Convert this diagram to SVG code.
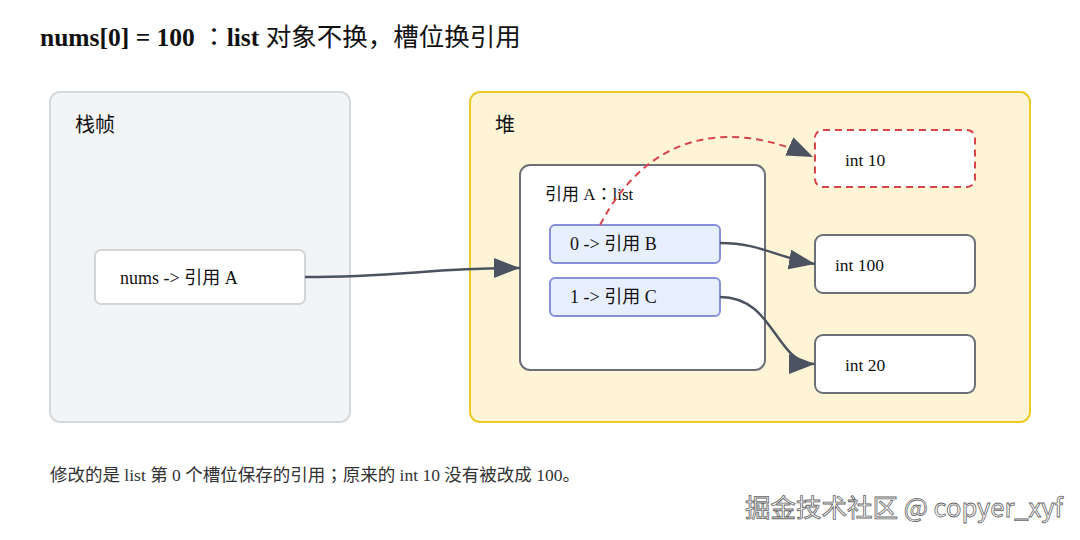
<svg xmlns="http://www.w3.org/2000/svg" width="1080" height="540" viewBox="0 0 1080 540">
<defs>
<style>
.t{font-family:"Liberation Serif","Noto Sans CJK SC",serif;fill:#111}
.jp{font-family:"Noto Sans CJK JP",sans-serif;font-weight:normal}
.lbl{font-family:"Noto Sans CJK SC","Liberation Sans",sans-serif;font-size:20px;fill:#111}
.node{fill:#fff;stroke:#6b7079;stroke-width:2}
.slot{fill:#e8effc;stroke:#8890dd;stroke-width:2}
.edge{fill:none;stroke:#4b5260;stroke-width:2.5}
</style>
<marker id="ah" markerUnits="userSpaceOnUse" markerWidth="28" markerHeight="20" refX="26" refY="10" orient="auto">
<path d="M0,0 L26,10 L0,20 z" fill="#4b5260"/>
</marker>
</defs>
<rect width="1080" height="540" fill="#fff"/>
<text x="40" y="46" class="t" font-size="25.5" font-weight="bold">nums[0] = 100 <tspan class="jp">：</tspan>list <tspan font-weight="normal">对象不换</tspan><tspan class="jp">，</tspan><tspan font-weight="normal">槽位换引用</tspan></text>

<g id="stack">
<rect x="50" y="92" width="300" height="330" rx="10" fill="#f2f4f5" stroke="#d5d9dc" stroke-width="2"/>
<text x="75" y="132" class="lbl">栈帧</text>
</g>
<g id="heap">
<rect x="470" y="92" width="560" height="330" rx="10" fill="#fff5d6" stroke="#ecca2a" stroke-width="2"/>
<text x="495" y="132" class="lbl">堆</text>
</g>
<g id="nums">
<rect x="95" y="250" width="210" height="54" rx="6" fill="#fff" stroke="#d2d5d8" stroke-width="2"/>
<text x="120" y="284" class="t" font-size="18">nums -&gt; 引用 A</text>
</g>
<g id="listA">
<rect x="520" y="165" width="245" height="205" rx="10" class="node"/>
<text x="545" y="200" class="t" font-size="17">引用 A<tspan class="jp">：</tspan>list</text>
</g>
<g id="slot0">
<rect x="550" y="225" width="170" height="38" rx="5" class="slot"/>
<text x="570" y="250" class="t" font-size="18">0 -&gt; 引用 B</text>
</g>
<g id="slot1">
<rect x="550" y="278" width="170" height="38" rx="5" class="slot"/>
<text x="570" y="303" class="t" font-size="18">1 -&gt; 引用 C</text>
</g>
<g id="int10">
<rect x="815" y="130" width="160" height="57" rx="8" fill="#fff" stroke="#d9434a" stroke-width="2" stroke-dasharray="7,5"/>
<text x="845" y="166" class="t" font-size="17.5">int 10</text>
</g>
<g id="int100">
<rect x="815" y="235" width="160" height="58" rx="8" class="node"/>
<text x="835" y="271" class="t" font-size="17.5">int 100</text>
</g>
<g id="int20">
<rect x="815" y="335" width="160" height="58" rx="8" class="node"/>
<text x="845" y="371" class="t" font-size="17.5">int 20</text>
</g>
<g id="connectors">
<path class="edge" d="M305,277 C400,277 430,268 520,268" marker-end="url(#ah)"/>
<path class="edge" d="M720,243 C760,243 775,257 815,264" marker-end="url(#ah)"/>
<path class="edge" d="M720,297 C775,297 775,364 815,364" marker-end="url(#ah)"/>
<path d="M600,225 C650,130 730,120 813,157" fill="none" stroke="#d9434a" stroke-width="2" stroke-dasharray="7,5" marker-end="url(#ah)"/>
</g>
<text x="50" y="481" class="t" font-size="17.5" style="fill:#333">修改的是 list 第 0 个槽位保存的引用<tspan class="jp">；</tspan>原来的 int 10 没有被改成 100<tspan class="jp">。</tspan></text>
<text x="745" y="517" font-family="'Noto Sans CJK SC','Liberation Sans',sans-serif" font-size="25.5" fill="#fff" stroke="#666" stroke-width="0.8">掘金技术社区 @ copyer_xyf</text>
</svg>
